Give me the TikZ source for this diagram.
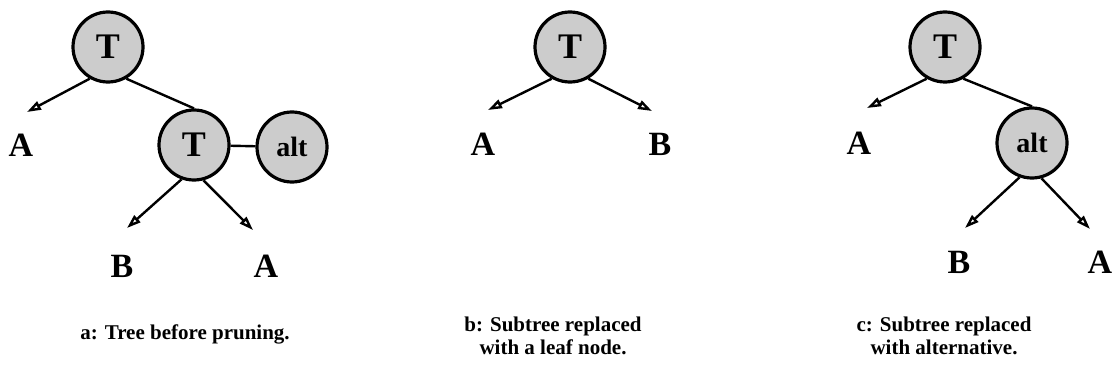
\documentclass[tikz,border=0pt]{standalone}
\usepackage{fontspec}
\setmainfont{Liberation Serif}
\usepackage{tikz}
\usetikzlibrary{arrows.meta, positioning}

\begin{document}
\begin{tikzpicture}[x=0.5pt, y=-0.5pt,
    treenode/.style={circle, draw, line width=1.6pt, fill=gray!40,
      minimum size=35pt, inner sep=0pt, font=\fontsize{18}{20}\selectfont\bfseries},
    altnode/.style={treenode, font=\fontsize{14}{16}\selectfont\bfseries},
    leaf/.style={inner sep=0pt, font=\fontsize{17}{19}\selectfont\bfseries},
    caption/.style={align=center, font=\fontsize{10.5}{11.5}\selectfont\bfseries},
    branch/.style={-{Triangle[open, length=7pt, width=4.5pt]}, line width=1.2pt},
    link/.style={line width=1.2pt}]
  \useasboundingbox (0,0) rectangle (1112,374);

  % a: tree before pruning
  \node[treenode] (aroot) at (108,47) {T};
  \node[treenode] (asub) at (194,145) {T};
  \node[altnode] (aalt) at (292,147) {alt};
  \node[leaf] (aleafA) at (21,145) {A};
  \node[leaf] (aleafB) at (122,266) {B};
  \node[leaf] (aleafC) at (266,266) {A};
  \coordinate (aendA) at (27,112);
  \coordinate (aendB) at (127,228);
  \coordinate (aendC) at (253,230);
  \draw[branch] (aroot.240) -- (aendA);
  \draw[link] (aroot.300) -- (asub.north);
  \draw[link] (asub) -- (aalt);
  \draw[branch] (asub.250) -- (aendB);
  \draw[branch] (asub.285) -- (aendC);
  \node[caption] (acap) at (185,334) {a: Tree before pruning.};

  % b: subtree replaced with a leaf
  \node[treenode] (broot) at (570,47) {T};
  \node[leaf] (bleafA) at (483,144) {A};
  \node[leaf] (bleafB) at (660,144) {B};
  \coordinate (bendA) at (488,110);
  \coordinate (bendB) at (652,111);
  \draw[branch] (broot.240) -- (bendA);
  \draw[branch] (broot.300) -- (bendB);
  \node[caption] (bcap) at (553,336) {b: Subtree replaced\\ with a leaf node.};

  % c: subtree replaced with alternative
  \node[treenode] (croot) at (945,47) {T};
  \node[altnode] (calt) at (1032,143) {alt};
  \node[leaf] (cleafA) at (859,143) {A};
  \node[leaf] (cleafB) at (959,262) {B};
  \node[leaf] (cleafC) at (1100,262) {A};
  \coordinate (cendA) at (867,108);
  \coordinate (cendB) at (965,228);
  \coordinate (cendC) at (1090,229);
  \draw[branch] (croot.240) -- (cendA);
  \draw[link] (croot.300) -- (calt.north);
  \draw[branch] (calt.250) -- (cendB);
  \draw[branch] (calt.285) -- (cendC);
  \node[caption] (ccap) at (944,336) {c: Subtree replaced\\ with alternative.};
\end{tikzpicture}
\end{document}
